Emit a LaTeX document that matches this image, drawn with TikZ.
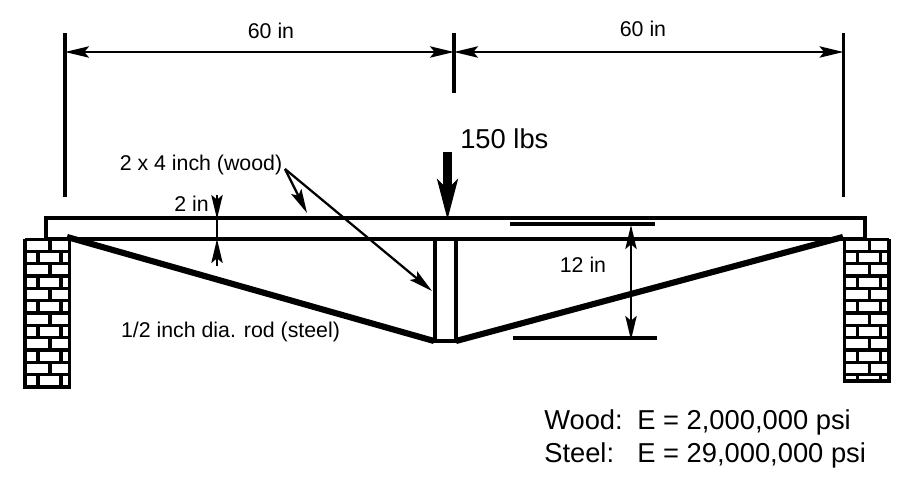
\documentclass[tikz,border=0pt]{standalone}
\usepackage{fontspec}
\setmainfont{Liberation Sans}
\usetikzlibrary{arrows.meta}
\tikzset{
 wall/.style={line width=2.3pt},
 thin line/.style={line width=1.7pt},
 rod/.style={line width=4.6pt},
 headtip/.tip={Stealth[length=18pt,width=8.5pt,inset=3.5pt]},
 dimtip/.style={thin line,{headtip}-{headtip}},
 leader/.style={thin line,-{headtip}},
 label/.style={inner sep=0pt,font=\fontsize{16}{19}\selectfont},
 biglabel/.style={inner sep=0pt,anchor=base west,font=\fontsize{20.5}{24}\selectfont}
}
% one brick pier: left edge, bottom edge
\newcommand{\brickpier}[2]{
 \begin{scope}
  \clip (#1-1,239) rectangle (#1+46,#2+1);
  \foreach \row in {0,2,...,10}{
   \draw[wall] (#1,239+12.33*\row) -- (#1+44.5,239+12.33*\row);
   \draw[wall] (#1,251.33+12.33*\row) -- (#1+44.5,251.33+12.33*\row);
   \draw[wall] (#1+25,239+12.33*\row) -- (#1+25,251.33+12.33*\row);
   \draw[wall] (#1+13,251.33+12.33*\row) -- (#1+13,263.66+12.33*\row);
   \draw[wall] (#1+36,251.33+12.33*\row) -- (#1+36,263.66+12.33*\row);
  }
 \end{scope}
 \draw[wall] (#1,239) -- (#1,#2) -- (#1+44.5,#2) -- (#1+44.5,239);
}
\begin{document}
\begin{tikzpicture}[x=0.75pt,y=-0.75pt]
 \useasboundingbox (0,0) rectangle (918,491);
 \brickpier{25}{387}
 \brickpier{844.5}{381}
 % beam and post
 \draw[wall] (69,239) -- (46,239) -- (46,218) -- (865,218) -- (865,239) -- (844,239) -- cycle;
 \draw[wall] (435,239) -- (435,341) -- (456,341) -- (456,239);
 % rods
 \coordinate (rodL) at (67,237);
 \coordinate (rodM) at (434,341);
 \coordinate (rodN) at (456,341);
 \coordinate (rodR) at (843,237);
 \draw[rod] (rodL) -- (rodM);
 \draw[rod] (rodN) -- (rodR);
 % span dimensions
 \coordinate (spanL) at (65,33);
 \coordinate (spanM) at (454,33);
 \coordinate (spanR) at (843.5,33);
 \draw[wall] (spanL) -- (65,197);
 \draw[wall] (spanM) -- (454,93);
 \draw[wall] (spanR) -- (843.5,197);
 \coordinate (dimL) at (65,52);
 \coordinate (dimM) at (454,52);
 \coordinate (dimR) at (843.5,52);
 \draw[dimtip] (dimL) -- (dimM);
 \draw[dimtip] (dimM) -- (dimR);
 \node[label] (spanA) at (271,31) {60 in};
 \node[label] (spanB) at (643,29) {60 in};
 % load
 \coordinate (loadtop) at (447.5,152);
 \coordinate (loadtip) at (447.5,220);
 \draw[line width=6.5pt,-{Stealth[length=30pt,width=15pt,inset=7pt]}] (loadtop) -- (loadtip);
 \node[biglabel] (load) at (460,149) {150 lbs};
 % depth of beam
 \coordinate (beamup) at (217,195);
 \coordinate (beamtop) at (217,219);
 \coordinate (beambot) at (217,239);
 \coordinate (beamdown) at (217,266);
 \draw[leader] (beamup) -- (beamtop);
 \draw[thin line] (beamtop) -- (beambot);
 \draw[leader] (beamdown) -- (beambot);
 \node[label] (beamtxt) at (191.5,204) {2 in};
 % depth of truss
 \coordinate (depA) at (510,224);
 \coordinate (depB) at (655,224);
 \coordinate (depC) at (513,338);
 \coordinate (depD) at (657,338);
 \draw[wall] (depA) -- (depB);
 \draw[wall] (depC) -- (depD);
 \coordinate (dep1) at (631,225);
 \coordinate (dep2) at (631,340);
 \draw[dimtip] (dep1) -- (dep2);
 \node[label] (deptxt) at (583,265) {12 in};
 % material labels
 \node[label] (wood) at (201,165) {2 x 4 inch (wood)};
 \coordinate (woodA) at (285,169);
 \coordinate (woodB) at (307,213);
 \coordinate (woodC) at (432,291);
 \draw[leader] (woodA) -- (woodB);
 \draw[leader] (woodA) -- (woodC);
 \node[label] (steel) at (230.5,332) {1/2 inch dia. rod (steel)};
 \node[biglabel] (propA) at (544,429.5) {Wood:};
 \node[biglabel] (propB) at (637,429.5) {E = 2,000,000 psi};
 \node[biglabel] (propC) at (544,462.5) {Steel:};
 \node[biglabel] (propD) at (637,462.5) {E = 29,000,000 psi};
\end{tikzpicture}
\end{document}
